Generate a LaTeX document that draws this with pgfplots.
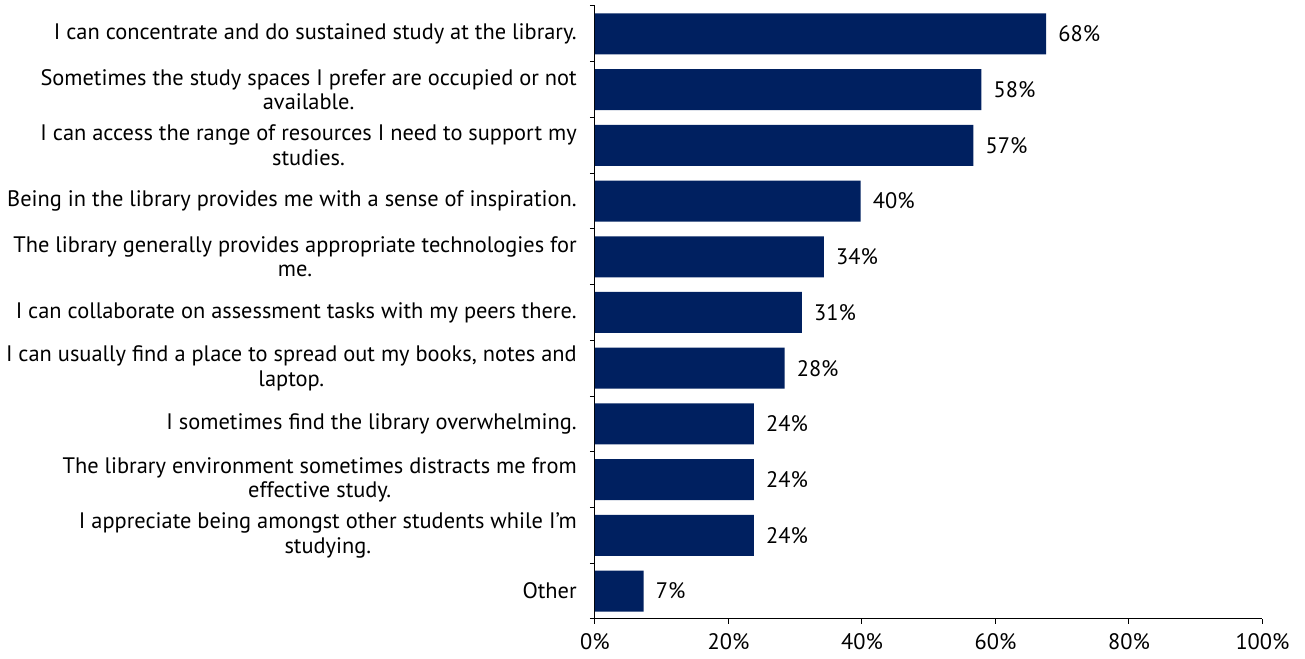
\documentclass[border=0pt]{standalone}
\usepackage{fontspec}
\setmainfont{PT Sans}
\usepackage{pgfplots}
\pgfplotsset{compat=1.18}
\definecolor{barblue}{HTML}{002060}
\begin{document}
\begin{tikzpicture}
\useasboundingbox (-446.25pt,-30pt) rectangle (532.5pt,464.25pt);
\begin{axis}[
  scale only axis,
  width=500.6pt, height=459.75pt,
  xbar, bar width=30.75pt,
  xmin=0, xmax=100, ymin=0.5, ymax=11.5,
  axis lines*=left,
  axis line style={black, line width=0.75pt},
  tick align=outside,
  major tick length=3.75pt,
  tick style={black, line width=0.75pt},
  xtick={0,20,40,60,80,100},
  xticklabels={0\%,20\%,40\%,60\%,80\%,100\%},
  ytick={0.5,1.5,...,11.5},
  yticklabels={},
  extra y ticks={1,...,11},
  extra y tick style={major tick length=0pt, tick style={draw=none}},
  extra y tick labels={
    Other,
    {I appreciate being amongst other students while I’m\\studying.},
    {The library environment sometimes distracts me from\\effective study.},
    I sometimes find the library overwhelming.,
    {I can usually find a place to spread out my books, notes and\\laptop.},
    I can collaborate on assessment tasks with my peers there.,
    {The library generally provides appropriate technologies for\\me.},
    Being in the library provides me with a sense of inspiration.,
    {I can access the range of resources I need to support my\\studies.},
    {Sometimes the study spaces I prefer are occupied or not\\available.},
    I can concentrate and do sustained study at the library.
  },
  yticklabel style={align=center, anchor=east, inner sep=0pt, xshift=-13.5pt,
    font=\fontsize{16.8}{18.3}\selectfont},
  xticklabel style={font=\fontsize{16.8}{18.3}\selectfont, yshift=-3.5pt},
  point meta=explicit symbolic,
  nodes near coords={\pgfplotspointmeta\%},
  nodes near coords style={anchor=west, inner sep=0pt, xshift=9pt,
    font=\fontsize{16.8}{18.3}\selectfont, black},
]
\addplot[fill=barblue, draw=none] coordinates {
  (7.3,1) [7]
  (23.8,2) [24]
  (23.8,3) [24]
  (23.8,4) [24]
  (28.4,5) [28]
  (31.0,6) [31]
  (34.3,7) [34]
  (39.8,8) [40]
  (56.7,9) [57]
  (57.9,10) [58]
  (67.6,11) [68]
};
\end{axis}
\end{tikzpicture}
\end{document}
